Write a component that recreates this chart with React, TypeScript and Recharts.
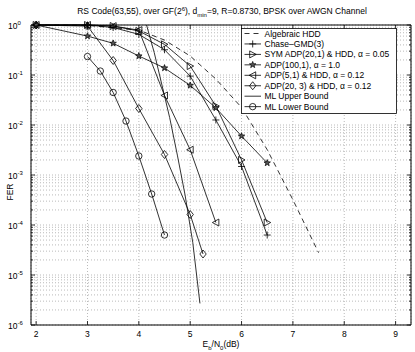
import React from 'react';
import { LineChart, Line, XAxis, YAxis, CartesianGrid, Legend, ReferenceArea } from 'recharts';

const W = 415;
const H = 352;
const PLOT_LEFT = 31;
const PLOT_RIGHT = 411;
const PLOT_TOP = 25;
const PLOT_BOTTOM = 325;
const FONT = '"Liberation Sans", Arial, Helvetica, sans-serif';

// ---- axis ticks ----
const xTicks = [2, 3, 4, 5, 6, 7, 8, 9];
const yDecadeExponents = [-6, -5, -4, -3, -2, -1, 0];
const yMinorMultipliers = [1, 2, 3, 4, 5, 6, 7, 8, 9];
const yTicks: number[] = [];
yDecadeExponents.forEach((e) => {
  if (e === 0) { yTicks.push(1); return; }
  yMinorMultipliers.forEach((m) => yTicks.push(m * Math.pow(10, e)));
});

// ---- series data (Eb/N0 in dB, FER) ----
const hddX = [2, 3, 4, 4.5, 5, 5.5, 6, 6.5, 7, 7.5];
const hddFER = [1, 0.98, 0.79, 0.5, 0.24, 0.083, 0.0224, 3.2e-3, 3.2e-4, 2.8e-5];

const chaseX = [2, 3, 3.5, 4, 4.5, 5, 5.5, 6, 6.5];
const chaseFER = [1, 1, 0.89, 0.65, 0.32, 0.095, 0.0126, 1.48e-3, 6.3e-5];

const symX = [2, 3, 3.5, 4, 4.5, 5, 5.5, 6, 6.5];
const symFER = [1, 1, 0.955, 0.76, 0.41, 0.151, 0.024, 2.0e-3, 1.12e-4];

const adp100X = [2, 3, 3.5, 4, 4.5, 5, 5.5, 6, 6.5];
const adp100FER = [1, 0.6, 0.43, 0.24, 0.138, 0.062, 0.022, 6.0e-3, 1.74e-3];

const adp51X = [2, 3, 3.5, 4, 4.5, 5, 5.5];
const adp51FER = [1, 1, 0.95, 0.79, 0.039, 3.2e-3, 1.12e-4];

const adp203X = [2, 3, 3.5, 4, 4.5, 5, 5.25];
const adp203FER = [1, 0.95, 0.195, 0.0214, 2.57e-3, 1.62e-4, 2.63e-5];

const mlUpperX = [4.15, 4.3, 4.45, 4.6, 4.75, 4.9, 5.05, 5.19];
const mlUpperFER = [1, 0.28, 0.063, 0.0141, 2.5e-3, 4.0e-4, 4.5e-5, 2.7e-6];

const mlLowerX = [3, 3.25, 3.5, 3.75, 4, 4.25, 4.5];
const mlLowerFER = [0.234, 0.12, 0.0447, 0.012, 2.4e-3, 4.17e-4, 6.3e-5];

const toPoints = (xs: number[], ys: number[]) => xs.map((x, i) => ({ x, y: ys[i] }));

type Shape = 'none' | 'plus' | 'triRight' | 'star' | 'triLeft' | 'diamond' | 'circle';

const legendLabels = [
  'Algebraic HDD',
  'Chase\u2013GMD(3)',
  'SYM ADP(20,1) & HDD, \u03b1 = 0.05',
  'ADP(100,1), \u03b1 = 1.0',
  'ADP(5,1) & HDD, \u03b1 = 0.12',
  'ADP(20, 3) & HDD, \u03b1 = 0.12',
  'ML Upper Bound',
  'ML Lower Bound',
];

const series: { name: string; data: { x: number; y: number }[]; shape: Shape; dashed?: boolean }[] = [
  { name: legendLabels[0], data: toPoints(hddX, hddFER), shape: 'none', dashed: true },
  { name: legendLabels[1], data: toPoints(chaseX, chaseFER), shape: 'plus' },
  { name: legendLabels[2], data: toPoints(symX, symFER), shape: 'triRight' },
  { name: legendLabels[3], data: toPoints(adp100X, adp100FER), shape: 'star' },
  { name: legendLabels[4], data: toPoints(adp51X, adp51FER), shape: 'triLeft' },
  { name: legendLabels[5], data: toPoints(adp203X, adp203FER), shape: 'diamond' },
  { name: legendLabels[6], data: toPoints(mlUpperX, mlUpperFER), shape: 'none' },
  { name: legendLabels[7], data: toPoints(mlLowerX, mlLowerFER), shape: 'circle' },
];

const SW = 0.8;

function Marker({ shape, cx, cy }: { shape: Shape; cx: number; cy: number }) {
  const common = { fill: 'none', stroke: '#000', strokeWidth: SW };
  switch (shape) {
    case 'plus':
      return <path d={`M${cx - 3.5},${cy}h7M${cx},${cy - 3.5}v7`} {...common} />;
    case 'triRight':
      return <polygon points={`${cx + 3.5},${cy} ${cx - 3},${cy - 3.5} ${cx - 3},${cy + 3.5}`} {...common} />;
    case 'triLeft':
      return <polygon points={`${cx - 3.5},${cy} ${cx + 3},${cy - 3.5} ${cx + 3},${cy + 3.5}`} {...common} />;
    case 'diamond':
      return <polygon points={`${cx},${cy - 4} ${cx + 3.2},${cy} ${cx},${cy + 4} ${cx - 3.2},${cy}`} {...common} />;
    case 'circle':
      return <circle cx={cx} cy={cy} r={3.2} {...common} />;
    case 'star': {
      const pts: string[] = [];
      for (let i = 0; i < 10; i++) {
        const r = i % 2 === 0 ? 3.4 : 1.4;
        const a = -Math.PI / 2 + (i * Math.PI) / 5;
        pts.push(`${cx + r * Math.cos(a)},${cy + r * Math.sin(a)}`);
      }
      return <polygon points={pts.join(' ')} fill="#555" stroke="#000" strokeWidth={0.7} />;
    }
    default:
      return null;
  }
}

const YTick = (props: any) => {
  const { y, payload } = props;
  const v = payload.value as number;
  const lg = Math.log10(v);
  const isMajor = Math.abs(lg - Math.round(lg)) < 1e-6;
  const len = isMajor ? 4 : 2;
  return (
    <g>
      <line x1={PLOT_LEFT} x2={PLOT_LEFT + len} y1={y} y2={y} stroke="#000" strokeWidth={0.8} />
      <line x1={PLOT_RIGHT - len} x2={PLOT_RIGHT} y1={y} y2={y} stroke="#000" strokeWidth={0.8} />
      {isMajor && (
        <text x={8} y={y + 3.5} fontSize={8.5} fontFamily={FONT} fill="#000">
          10
          <tspan dy={-4} fontSize={6}>{Math.round(lg)}</tspan>
        </text>
      )}
    </g>
  );
};

const XTick = (props: any) => {
  const { x, payload } = props;
  return (
    <g>
      <line x1={x} x2={x} y1={PLOT_BOTTOM} y2={PLOT_BOTTOM - 4} stroke="#000" strokeWidth={0.8} />
      <line x1={x} x2={x} y1={PLOT_TOP} y2={PLOT_TOP + 4} stroke="#000" strokeWidth={0.8} />
      <text x={x} y={337} textAnchor="middle" fontSize={8.5} fontFamily={FONT} fill="#000">
        {payload.value}
      </text>
    </g>
  );
};

const LEG_W = 155;
const LEG_H = 85;

const LegendBox = () => (
  <svg width={LEG_W + 1} height={LEG_H + 1} style={{ display: 'block' }}>
    <rect x={0.5} y={0.5} width={LEG_W} height={LEG_H} fill="#fff" stroke="#000" strokeWidth={0.8} />
    {series.map((s, i) => {
      const cy = 5.5 + i * 10.45;
      return (
        <g key={s.name}>
          <line x1={3.5} x2={20} y1={cy} y2={cy} stroke="#000" strokeWidth={SW} strokeDasharray={s.dashed ? '5 4' : undefined} />
          <Marker shape={s.shape} cx={11.7} cy={cy} />
          <text x={23.5} y={cy + 3} fontSize={8.5} fontFamily={FONT} fill="#000">{s.name}</text>
        </g>
      );
    })}
  </svg>
);

export default function App() {
  return (
    <div style={{ position: 'absolute', left: 0, top: 0, width: W, height: H, background: '#fff', fontFamily: FONT }}>
      <LineChart width={W} height={H} margin={{ top: PLOT_TOP, right: W - PLOT_RIGHT, bottom: 0, left: 0 }}>
        <CartesianGrid stroke="#a8a8a8" strokeDasharray="1 2" strokeWidth={0.8} />
        <XAxis
          type="number"
          dataKey="x"
          domain={[1.9, 9.3]}
          ticks={xTicks}
          interval={0}
          height={H - PLOT_BOTTOM}
          axisLine={false}
          tickLine={false}
          tick={<XTick />}
        />
        <YAxis
          type="number"
          dataKey="y"
          scale="log"
          domain={[1e-6, 1]}
          ticks={yTicks}
          interval={0}
          width={PLOT_LEFT}
          axisLine={false}
          tickLine={false}
          tick={<YTick />}
        />
        <ReferenceArea x1={1.9} x2={9.3} y1={1e-6} y2={1} fill="none" fillOpacity={0} stroke="#000" strokeWidth={1} />
        {series.map((s) => (
          <Line
            key={s.name}
            data={s.data}
            dataKey="y"
            name={s.name}
            type="linear"
            stroke="#000"
            strokeWidth={SW}
            strokeDasharray={s.dashed ? '5 4' : undefined}
            isAnimationActive={false}
            dot={
              s.shape === 'none'
                ? false
                : (p: any) => <Marker key={`${s.shape}-${p.index}`} shape={s.shape} cx={p.cx} cy={p.cy} />
            }
            activeDot={false}
          />
        ))}
        <Legend
          layout="vertical"
          align="center"
          verticalAlign="middle"
          content={() => <LegendBox />}
          wrapperStyle={{ left: 241, top: 28, width: LEG_W + 1, height: LEG_H + 1 }}
        />
      </LineChart>
      <svg width={W} height={H} style={{ position: 'absolute', left: 0, top: 0, pointerEvents: 'none' }}>
        <text x={222} y={14} textAnchor="middle" fontSize={8.5} fontFamily={FONT} fill="#000">
          RS Code(63,55), over GF(2
          <tspan dy={-3.5} fontSize={6}>6</tspan>
          <tspan dy={3.5}>), d</tspan>
          <tspan dy={2.5} fontSize={6}>min</tspan>
          <tspan dy={-2.5}>=9, R=0.8730, BPSK over AWGN Channel</tspan>
        </text>
        <text x={221} y={347} textAnchor="middle" fontSize={8.5} fontFamily={FONT} fill="#000">
          E<tspan dy={2.5} fontSize={6}>b</tspan>
          <tspan dy={-2.5}>/N</tspan>
          <tspan dy={2.5} fontSize={6}>0</tspan>
          <tspan dy={-2.5}>(dB)</tspan>
        </text>
        <text x={12.5} y={192} transform="rotate(-90 12.5 192)" textAnchor="middle" fontSize={8.5} fontFamily={FONT} fill="#000">
          FER
        </text>
      </svg>
    </div>
  );
}
